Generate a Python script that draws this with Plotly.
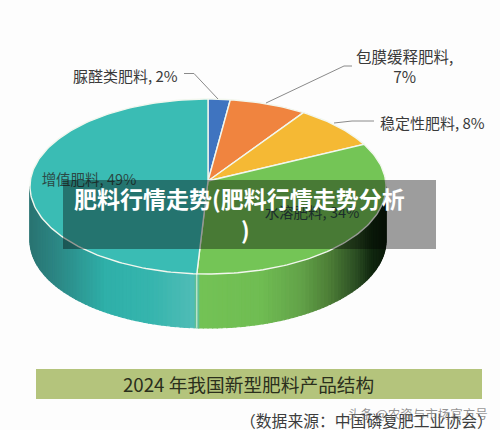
import math
import plotly.graph_objects as go

# data, clockwise from 12 o'clock
names = ["脲醛类肥料", "包膜缓释肥料", "稳定性肥料", "水溶肥料", "增值肥料"]
shares = [2, 7, 8, 34, 49]
colors = ["#3f74c0", "#f0843f", "#f5b934", "#74c556", "#3abcb4"]

title_lines = ["肥料行情走势(肥料行情走势分析", ")"]
caption = "2024 年我国新型肥料产品结构"
source = "（数据来源：中国磷复肥工业协会）"
watermark = "头条 @农资与市场官方号"

# pie geometry in page pixels
cx, cy, rx, ry = 208, 186.5, 178, 87.5
apex_x, apex_y = 208, 181
depth = 54

# side shading, by page x
side_stops = [
    (30, "#2a7573"), (60, "#2c8a87"), (105, "#2fb0a9"), (150, "#36b5ae"), (196, "#52bdb7"),
    (197, "#74c356"), (260, "#70bd53"), (300, "#63a349"), (330, "#4c7c36"),
    (355, "#2c4f24"), (372, "#10260f"), (386, "#0b1a0b"),
]

FONT = "Noto Sans CJK SC"


def rim(t):
    a = math.radians(t)
    return cx + rx * math.sin(a), cy - ry * math.cos(a)


def to_rgb(h):
    return [int(h[i:i + 2], 16) for i in (1, 3, 5)]


def side_color(x):
    for (x0, c0), (x1, c1) in zip(side_stops, side_stops[1:]):
        if x <= x1:
            f = max(0, (x - x0) / (x1 - x0))
            a, b = to_rgb(c0), to_rgb(c1)
            return "rgb(%d,%d,%d)" % tuple(a[i] + (b[i] - a[i]) * f for i in range(3))
    return side_stops[-1][1]


def poly(xs, ys, fill, line="rgba(0,0,0,0)", width=0):
    fig.add_trace(go.Scatter(x=xs, y=ys, mode="lines", fill="toself", fillcolor=fill,
                             line=dict(color=line, width=width), hoverinfo="skip"))


fig = go.Figure()

# side wall, thin strips along the front half
t = 90.0
while t < 270:
    t2 = t + 1.5
    x1, y1 = rim(t)
    x2, y2 = rim(t2)
    c = side_color((x1 + x2) / 2)
    poly([x1, x2, x2, x1, x1], [y1, y2, y2 + depth, y1 + depth, y1], c, c, 1.2)
    t = t2

# seam between teal and green on the wall
start = 0
seam = sum(shares[:4]) * 3.6
sx, sy = rim(seam)
fig.add_trace(go.Scatter(x=[sx, sx], y=[sy, sy + depth], mode="lines",
                         line=dict(color="#e4f0e4", width=1), hoverinfo="skip"))

# top face wedges
for share, col in zip(shares, colors):
    n = max(int(share * 3), 4)
    ts = [start + share * 3.6 * i / n for i in range(n + 1)]
    pts = [rim(v) for v in ts]
    xs = [apex_x] + [p[0] for p in pts] + [apex_x]
    ys = [apex_y] + [p[1] for p in pts] + [apex_y]
    poly(xs, ys, col, "#f2f7ee", 1.4)
    start += share * 3.6

# labels inside the pie, below the dark band
fig.add_trace(go.Scatter(
    x=[89, 312], y=[181, 214], mode="text",
    text=[f"{names[4]}, {shares[4]}%", f"{names[3]}, {shares[3]}%"],
    textfont=dict(family=FONT, size=14.5, color="#2c4a46"), hoverinfo="skip"))

# leader lines
for lx, ly in [([184, 194, 218], [73.5, 73.5, 99]),
               ([266, 344, 352], [103, 66, 66]),
               ([334, 352, 374], [123, 121, 121])]:
    fig.add_trace(go.Scatter(x=lx, y=ly, mode="lines", line=dict(color="#8a8a8a", width=1),
                             hoverinfo="skip"))

anns = [
    (125, 75, f"{names[0]}, {shares[0]}%", 15, "#3a3a3a"),
    (404, 66, f"{names[1]},<br>{shares[1]}%", 15.5, "#3a3a3a"),
    (432, 122, f"{names[2]}, {shares[2]}%", 15, "#3a3a3a"),
    (248, 383.5, caption, 18.7, "#2b2f1c"),
    (366, 420, source, 15.8, "#3c3c3c"),
    (418, 413, watermark, 12.5, "rgba(110,110,110,0.75)"),
    (239, 198, title_lines[0], 23, "#ffffff"),
    (245, 229, title_lines[1], 23, "#ffffff"),
]

annotations = [dict(x=a[0], y=a[1], text=a[2], showarrow=False, xref="x", yref="y",
                    font=dict(family=FONT, size=a[3], color=a[4]), align="center")
               for a in anns]
annotations[-1]["font"]["weight"] = 700
annotations[-2]["font"]["weight"] = 700

fig.update_layout(
    width=500, height=430, autosize=False, showlegend=False,
    margin=dict(l=0, r=0, t=0, b=0),
    paper_bgcolor="#fdfdfd", plot_bgcolor="#fdfdfd",
    xaxis=dict(range=[0, 500], visible=False, fixedrange=True),
    yaxis=dict(range=[430, 0], visible=False, fixedrange=True),
    annotations=annotations,
    shapes=[
        dict(type="rect", x0=63, x1=436, y0=180, y1=249, layer="above",
             fillcolor="rgba(0,0,0,0.38)", line=dict(width=0)),
        dict(type="rect", x0=36, x1=482, y0=369, y1=399, layer="below",
             fillcolor="#b4c47c", line=dict(width=0)),
    ],
)

# the page's default body margin would push the figure 8px in
fig.write_html("out.html", config=dict(displayModeBar=False),
               post_script="document.body.style.margin='0';document.body.style.overflow='hidden';")
